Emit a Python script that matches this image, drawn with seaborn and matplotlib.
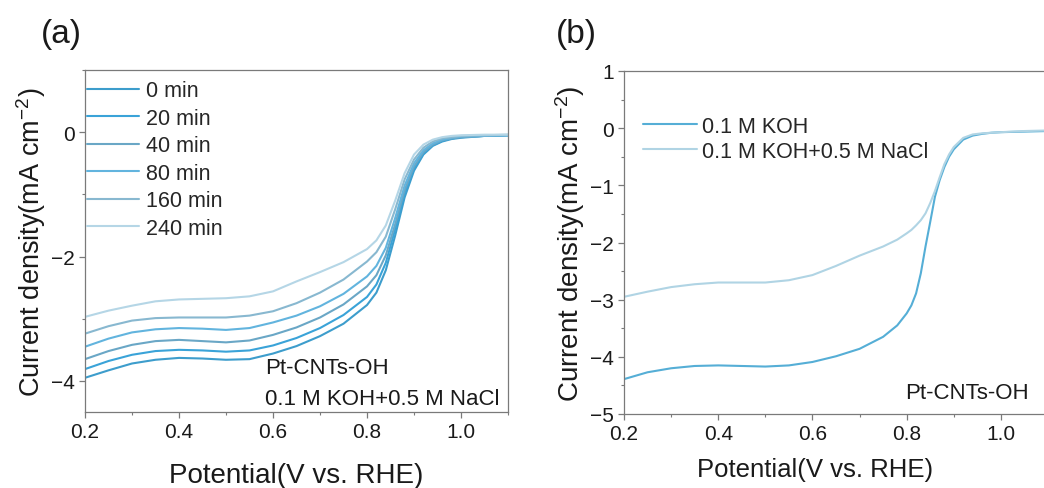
import matplotlib
matplotlib.use("Agg")
import matplotlib.pyplot as plt
from matplotlib.ticker import MultipleLocator
import numpy as np
import pandas as pd
import seaborn as sns

# ---------------- data ----------------
# (a) LSV curves of Pt-CNTs-OH in 0.1 M KOH + 0.5 M NaCl after different times
potential_a = [0.20, 0.25, 0.30, 0.35, 0.40, 0.45, 0.50, 0.55, 0.60, 0.65, 0.70,
               0.75, 0.80, 0.82, 0.84, 0.86, 0.88, 0.90, 0.92, 0.94, 0.96, 0.98,
               1.00, 1.05, 1.10]
times = ["0 min", "20 min", "40 min", "80 min", "160 min", "240 min"]
j_0min = [-3.95, -3.83, -3.72, -3.66, -3.63, -3.64, -3.66, -3.65, -3.56, -3.44, -3.28,
          -3.08, -2.78, -2.58, -2.22, -1.66, -1.05, -0.62, -0.36, -0.22, -0.15, -0.11,
          -0.09, -0.06, -0.05]
j_20min = [-3.81, -3.68, -3.58, -3.52, -3.50, -3.51, -3.53, -3.51, -3.43, -3.31, -3.15,
           -2.94, -2.65, -2.45, -2.10, -1.56, -0.98, -0.58, -0.34, -0.21, -0.14, -0.10,
           -0.08, -0.06, -0.05]
j_40min = [-3.65, -3.52, -3.42, -3.36, -3.34, -3.36, -3.38, -3.35, -3.26, -3.14, -2.98,
           -2.77, -2.48, -2.30, -1.98, -1.48, -0.93, -0.55, -0.32, -0.20, -0.13, -0.10,
           -0.08, -0.06, -0.05]
j_80min = [-3.45, -3.32, -3.22, -3.17, -3.15, -3.16, -3.18, -3.15, -3.06, -2.95, -2.80,
           -2.60, -2.32, -2.15, -1.86, -1.38, -0.86, -0.50, -0.29, -0.18, -0.12, -0.09,
           -0.07, -0.06, -0.05]
j_160min = [-3.24, -3.12, -3.03, -2.99, -2.98, -2.98, -2.98, -2.95, -2.88, -2.75, -2.58,
            -2.37, -2.08, -1.93, -1.68, -1.24, -0.76, -0.44, -0.25, -0.15, -0.10, -0.08,
            -0.06, -0.05, -0.04]
j_240min = [-2.97, -2.87, -2.79, -2.72, -2.69, -2.68, -2.67, -2.64, -2.56, -2.40, -2.25,
            -2.09, -1.88, -1.74, -1.50, -1.10, -0.66, -0.36, -0.20, -0.12, -0.08, -0.06,
            -0.05, -0.04, -0.04]

# (b) Pt-CNTs-OH in the two electrolytes
potential_b = [0.20, 0.25, 0.30, 0.35, 0.40, 0.45, 0.50, 0.55, 0.60, 0.65, 0.70,
               0.75, 0.78, 0.80, 0.81, 0.82, 0.83, 0.84, 0.85, 0.86, 0.87, 0.88,
               0.89, 0.90, 0.92, 0.94, 0.96, 0.98, 1.00, 1.05, 1.10]
electrolytes = ["0.1 M KOH", "0.1 M KOH+0.5 M NaCl"]
j_koh = [-4.39, -4.27, -4.20, -4.16, -4.15, -4.16, -4.17, -4.15, -4.09, -3.99, -3.86,
         -3.65, -3.45, -3.24, -3.10, -2.89, -2.54, -2.07, -1.64, -1.20, -0.91, -0.68,
         -0.50, -0.37, -0.20, -0.13, -0.10, -0.08, -0.07, -0.06, -0.05]
j_nacl = [-2.95, -2.86, -2.78, -2.73, -2.70, -2.70, -2.70, -2.66, -2.57, -2.41, -2.23,
          -2.07, -1.95, -1.84, -1.78, -1.70, -1.61, -1.49, -1.31, -1.10, -0.86, -0.63,
          -0.46, -0.33, -0.17, -0.11, -0.09, -0.08, -0.07, -0.05, -0.04]

# ---------------- style ----------------
sns.set_theme(style="ticks")
plt.rcParams["font.family"] = ["Liberation Sans", "DejaVu Sans"]
plt.rcParams["mathtext.fontset"] = "custom"
plt.rcParams["mathtext.rm"] = "Liberation Sans"
plt.rcParams["mathtext.it"] = "Liberation Sans:italic"
plt.rcParams["axes.unicode_minus"] = True

colors_a = ["#3d9dcc", "#3aa3d8", "#6aa7c6", "#62b4de", "#88b8d0", "#b5d6e6"]
colors_b = ["#55aed6", "#b0d4e4"]
spine_color = "#7a7a7a"
text_color = "#1a1a1a"

W, H = 1044, 489
fig = plt.figure(figsize=(W / 100, H / 100), dpi=100)


def px_axes(left, top, right, bottom):
    return fig.add_axes([left / W, 1 - bottom / H, (right - left) / W, (bottom - top) / H])


def style_axes(ax, ymajor, yminor):
    for s in ax.spines.values():
        s.set_color(spine_color)
        s.set_linewidth(0.9)
    ax.xaxis.set_major_locator(MultipleLocator(0.2))
    ax.xaxis.set_minor_locator(MultipleLocator(0.1))
    ax.yaxis.set_major_locator(MultipleLocator(ymajor))
    ax.yaxis.set_minor_locator(MultipleLocator(yminor))
    ax.tick_params(which="major", direction="out", length=4.5, width=0.9,
                   color=spine_color, labelsize=15, labelcolor=text_color, pad=3)
    ax.tick_params(which="minor", direction="out", length=2.5, width=0.8,
                   color=spine_color)
    ax.xaxis.set_major_formatter(plt.FuncFormatter(lambda v, p: f"{v:.1f}"))
    ax.grid(False)


def place_labels(ax, xlab_y, ylab_x):
    ax.xaxis.set_label_coords(0.5, xlab_y)
    ax.xaxis.label.set_verticalalignment("center")
    ax.yaxis.set_label_coords(ylab_x, 0.5)
    ax.yaxis.label.set_verticalalignment("center")


# ---------------- panel (a) ----------------
ax_a = px_axes(85, 71, 508, 413)
series_a = [j_0min, j_20min, j_40min, j_80min, j_160min, j_240min]
df_a = pd.DataFrame({
    "Potential": np.tile(potential_a, len(times)),
    "Current": np.concatenate(series_a),
    "Time": np.repeat(times, len(potential_a)),
})
sns.lineplot(data=df_a, x="Potential", y="Current", hue="Time", hue_order=times,
             palette=colors_a, estimator=None, sort=False, linewidth=1.5, ax=ax_a)
ax_a.set_xlim(0.2, 1.1)
ax_a.set_ylim(-4.5, 1.0)
style_axes(ax_a, 2, 1)
ax_a.set_yticks([-4, -2, 0])
ax_a.set_xlabel("Potential(V vs. RHE)", fontsize=20, color=text_color)
ax_a.set_ylabel(r"Current density(mA cm$^{-2}$)", fontsize=19.5, color=text_color)
place_labels(ax_a, -0.184, -0.128)
handles, labels = ax_a.get_legend_handles_labels()
ax_a.legend(handles, labels, loc="upper left", bbox_to_anchor=(0.005, 0.97),
            frameon=False, fontsize=15.5, handlelength=2.4, handletextpad=0.35,
            labelspacing=0.3, borderpad=0, borderaxespad=0)
ax_a.text(0.4255, 0.13, "Pt-CNTs-OH", transform=ax_a.transAxes, ha="left",
          va="center", fontsize=16, color=text_color)
ax_a.text(0.4255, 0.04, "0.1 M KOH+0.5 M NaCl", transform=ax_a.transAxes,
          ha="left", va="center", fontsize=16, color=text_color)

# ---------------- panel (b) ----------------
ax_b = px_axes(624, 72, 1048, 415)
df_b = pd.DataFrame({
    "Potential": np.tile(potential_b, len(electrolytes)),
    "Current": np.concatenate([j_koh, j_nacl]),
    "Electrolyte": np.repeat(electrolytes, len(potential_b)),
})
sns.lineplot(data=df_b, x="Potential", y="Current", hue="Electrolyte",
             hue_order=electrolytes, palette=colors_b, estimator=None, sort=False,
             linewidth=1.5, ax=ax_b)
ax_b.set_xlim(0.2, 1.1)
ax_b.set_ylim(-5.0, 1.0)
style_axes(ax_b, 1, 0.5)
ax_b.set_xlabel("Potential(V vs. RHE)", fontsize=18.5, color=text_color)
ax_b.set_ylabel(r"Current density(mA cm$^{-2}$)", fontsize=20, color=text_color)
place_labels(ax_b, -0.16, -0.127)
ax_b.xaxis.set_label_coords(0.45, -0.16)
handles, labels = ax_b.get_legend_handles_labels()
ax_b.legend(handles, labels, loc="upper left", bbox_to_anchor=(0.045, 0.87),
            frameon=False, fontsize=15.5, handlelength=2.5, handletextpad=0.25,
            labelspacing=0.2, borderpad=0, borderaxespad=0)
ax_b.text(0.663, 0.064, "Pt-CNTs-OH", transform=ax_b.transAxes, ha="left",
          va="center", fontsize=16, color=text_color)

# panel letters
fig.text(61 / W, 1 - 34 / H, "(a)", ha="center", va="center", fontsize=24,
         color=text_color)
fig.text(576 / W, 1 - 34 / H, "(b)", ha="center", va="center", fontsize=24,
         color=text_color)

fig.savefig("out.png", dpi=100)
